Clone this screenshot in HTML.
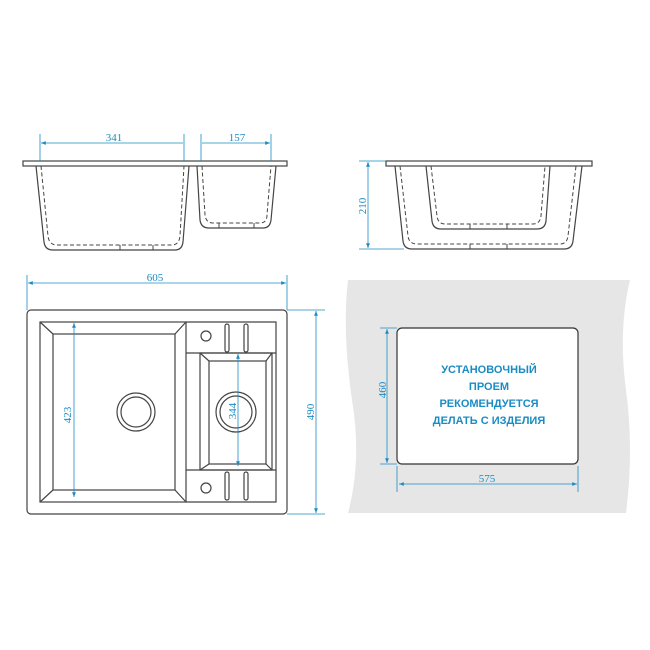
<!DOCTYPE html>
<html><head><meta charset="utf-8"><style>body{margin:0;background:#fff}svg{display:block}</style></head><body>
<svg width="650" height="650" viewBox="0 0 650 650" xmlns="http://www.w3.org/2000/svg" font-family="Liberation Serif, serif">
<defs>
<marker id="a" viewBox="0 0 10 10" refX="10" refY="5" markerWidth="6" markerHeight="6" orient="auto-start-reverse"><path d="M0,1L10,5L0,9z" fill="#1a8cc4"/></marker>
</defs>
<g fill="none" stroke="#444" stroke-width="1.2">
<rect x="23" y="161" width="264" height="5"/>
<path d="M36,166 L44,242 Q45,250 53,250 L175,250 Q182,250 183,242 L189,166"/>
<path d="M197,166 L200,220 Q201,228 209,228 L263,228 Q270,228 271,220 L276,166"/>
<rect x="386" y="161" width="206" height="5"/>
<path d="M395,166 L403,241 Q404,249 412,249 L564,249 Q572,249 573,241 L582,166"/>
<path d="M426,166 L432,221 Q433,229 441,229 L537,229 Q545,229 546,221 L550,166"/>
<rect x="27" y="310" width="260" height="204" rx="4"/>
<rect x="40" y="322" width="146" height="180"/>
<rect x="53" y="334" width="122" height="156"/>
<path d="M40,322L53,334M186,322L175,334M40,502L53,490M186,502L175,490"/>
<circle cx="136" cy="412" r="19"/><circle cx="136" cy="412" r="15"/>
<path d="M186,322 L276,322 L276,502 L186,502"/>
<path d="M186,353 L276,353 M186,470 L276,470"/>
<rect x="200" y="353" width="72" height="117"/>
<rect x="209" y="361" width="57" height="103"/>
<path d="M200,353L209,361M272,353L266,361M200,470L209,464M272,470L266,464"/>
<circle cx="236" cy="412" r="20"/><circle cx="236" cy="412" r="16"/>
<circle cx="206" cy="336" r="5"/><circle cx="206" cy="488" r="5"/>
<rect x="225" y="324" width="4" height="28" rx="2"/><rect x="244" y="324" width="4" height="28" rx="2"/>
<rect x="225" y="472" width="4" height="28" rx="2"/><rect x="244" y="472" width="4" height="28" rx="2"/>
</g>
<g fill="none" stroke="#444" stroke-width="1" stroke-dasharray="4,2.5">
<path d="M41,166 L48,236 Q49,245 57,245 L172,245 Q179,245 180,236 L184,166"/>
<path d="M202,166 L205,215 Q206,223 213,223 L260,223 Q267,223 267,215 L271,166"/>
<path d="M400,166 L408,236 Q409,244 417,244 L560,244 Q567,244 568,236 L576,166"/>
<path d="M431,166 L437,216 Q438,224 445,224 L533,224 Q540,224 541,216 L545,166"/>
</g>
<g stroke="#444" stroke-width="1">
<path d="M120,245V250M153,245V250M219,223V228M254,223V228M470,244V249M507,244V249M470,224V229M507,224V229"/>
</g>
<path d="M348,280 L630,280 Q618,330 626,390 Q634,450 626,513 L348,513 Q362,460 352,400 Q342,330 348,280 Z" fill="#e6e6e6"/>
<rect x="397" y="328" width="181" height="136" rx="5" fill="#fff" stroke="#333" stroke-width="1.2"/>
<g fill="#1a8cc4" font-family="Liberation Sans, sans-serif" font-weight="bold" font-size="11" text-anchor="middle">
<text x="489" y="373">УСТАНОВОЧНЫЙ</text>
<text x="489" y="390">ПРОЕМ</text>
<text x="489" y="407">РЕКОМЕНДУЕТСЯ</text>
<text x="489" y="424">ДЕЛАТЬ С ИЗДЕЛИЯ</text>
</g>
<g stroke="#1a8cc4" stroke-width="0.8" fill="none">
<path d="M40,134V161M184,134V161M201,134V161M271,134V161"/>
<path d="M41,143H183M202,143H270" marker-start="url(#a)" marker-end="url(#a)"/>
<path d="M359,161H386M359,249H404"/>
<path d="M368,162V248" marker-start="url(#a)" marker-end="url(#a)"/>
<path d="M27,275V310M287,275V310"/>
<path d="M28,283H286" marker-start="url(#a)" marker-end="url(#a)"/>
<path d="M287,310H325M287,514H325"/>
<path d="M316,311V513" marker-start="url(#a)" marker-end="url(#a)"/>
<path d="M74,323V497" marker-start="url(#a)" marker-end="url(#a)"/>
<path d="M238,354V466" marker-start="url(#a)" marker-end="url(#a)"/>
<path d="M380,328H397M380,464H397"/>
<path d="M387,329V463" marker-start="url(#a)" marker-end="url(#a)"/>
<path d="M397,466V492M578,466V492"/>
<path d="M399,484H577" marker-start="url(#a)" marker-end="url(#a)"/>
</g>
<g fill="#1a8cc4" font-size="11" text-anchor="middle">
<text x="114" y="141">341</text>
<text x="237" y="141">157</text>
<text x="155" y="281">605</text>
<text x="487" y="482">575</text>
<text transform="translate(366,206) rotate(-90)">210</text>
<text transform="translate(314,412) rotate(-90)">490</text>
<text transform="translate(71,415) rotate(-90)">423</text>
<text transform="translate(236,411) rotate(-90)">344</text>
<text transform="translate(386,390) rotate(-90)">460</text>
</g>
</svg>
</body></html>
